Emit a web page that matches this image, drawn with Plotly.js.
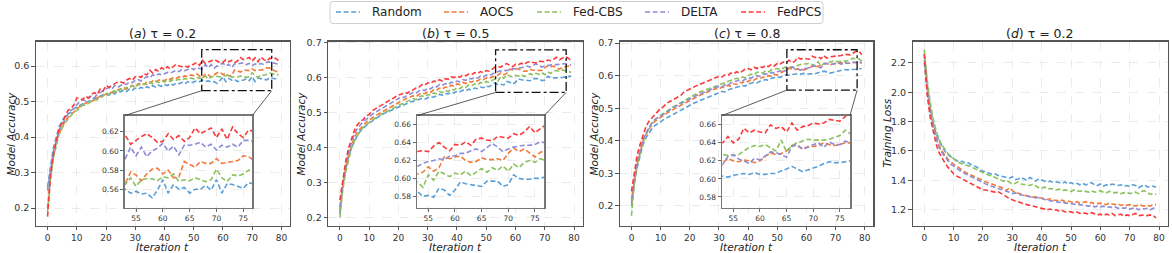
<!DOCTYPE html>
<html><head><meta charset="utf-8">
<script src="https://cdn.plot.ly/plotly-3.0.1.min.js"></script>
<style>html,body{margin:0;padding:0;background:#fff}#chart{width:1172px;height:253px}</style>
</head><body><div id="chart"></div>
<script>
// ---------------- DATA ----------------
const iterations = [0,1,2,3,4,5,6,7,8,9,10,11,12,13,14,15,16,17,18,19,20,21,22,23,24,25,26,27,28,29,30,31,32,33,34,35,36,37,38,39,40,41,42,43,44,45,46,47,48,49,50,51,52,53,54,55,56,57,58,59,60,61,62,63,64,65,66,67,68,69,70,71,72,73,74,75,76,77,78,79];
const methods = ['Random','AOCS','Fed-CBS','DELTA','FedPCS'];
const panelTitles = ['(<i>a</i>) τ = 0.2','(<i>b</i>) τ = 0.5','(<i>c</i>) τ = 0.8','(<i>d</i>) τ = 0.2'];
const yTitles = ['Model Accuracy','Model Accuracy','Model Accuracy','Training Loss'];
const xTitle = 'Iteration t';
const mainXTicks = [0,10,20,30,40,50,60,70,80];
const accTicks = [0.2,0.3,0.4,0.5,0.6];
const accTicks7 = [0.2,0.3,0.4,0.5,0.6,0.7];
const lossTicks = [1.2,1.4,1.6,1.8,2.0,2.2];
const insetXTicks = [55,60,65,70,75];
const insetYTicksA = [0.56,0.58,0.60,0.62];
const insetYTicksBC = [0.58,0.60,0.62,0.64,0.66];

// (a) tau = 0.2 accuracy
const randomA = [0.26,0.32,0.37,0.4,0.43,0.445,0.46,0.465,0.47,0.48,0.485,0.49,0.495,0.498,0.5,0.505,0.51,0.508,0.515,0.518,0.52,0.518,0.525,0.522,0.53,0.527,0.532,0.528,0.535,0.532,0.538,0.535,0.54,0.536,0.542,0.538,0.545,0.54,0.546,0.543,0.548,0.545,0.55,0.546,0.552,0.55,0.554,0.55,0.556,0.552,0.555,0.558,0.556,
 0.560,0.556,0.558,0.555,0.556,0.551,0.559,0.570,0.556,0.565,0.560,0.562,0.556,0.560,0.560,0.564,0.559,0.570,0.556,0.566,0.565,0.563,0.561,0.567,0.565,0.563,0.562];
const aocsA = [0.2,0.29,0.35,0.39,0.41,0.43,0.445,0.455,0.465,0.47,0.48,0.485,0.49,0.495,0.5,0.5,0.505,0.51,0.515,0.52,0.52,0.525,0.525,0.53,0.533,0.535,0.54,0.535,0.542,0.545,0.54,0.55,0.552,0.548,0.555,0.552,0.558,0.555,0.56,0.562,0.558,0.565,0.562,0.568,0.565,0.57,0.568,0.572,0.57,0.575,0.573,0.578,0.572,
 0.566,0.578,0.575,0.569,0.576,0.581,0.582,0.576,0.580,0.572,0.573,0.589,0.586,0.583,0.589,0.587,0.587,0.592,0.587,0.588,0.589,0.590,0.595,0.594,0.59,0.585,0.583];
const fedcbsA = [0.19,0.28,0.34,0.38,0.41,0.425,0.44,0.45,0.46,0.47,0.475,0.48,0.49,0.49,0.495,0.5,0.505,0.505,0.51,0.515,0.525,0.52,0.528,0.53,0.525,0.535,0.53,0.54,0.538,0.545,0.54,0.548,0.545,0.55,0.548,0.555,0.55,0.557,0.553,0.558,0.555,0.56,0.557,0.562,0.56,0.563,0.56,0.565,0.562,0.566,0.564,0.568,0.566,
 0.565,0.572,0.563,0.570,0.571,0.571,0.569,0.573,0.572,0.576,0.568,0.570,0.569,0.572,0.570,0.568,0.570,0.581,0.572,0.568,0.575,0.574,0.576,0.580,0.578,0.576,0.575];
const deltaA = [0.25,0.31,0.36,0.39,0.42,0.435,0.45,0.465,0.475,0.48,0.49,0.5,0.505,0.502,0.51,0.515,0.51,0.52,0.525,0.53,0.535,0.54,0.535,0.545,0.54,0.545,0.55,0.548,0.555,0.553,0.56,0.562,0.558,0.565,0.57,0.567,0.575,0.572,0.578,0.575,0.578,0.582,0.58,0.585,0.588,0.584,0.59,0.587,0.59,0.594,0.59,0.595,0.593,
 0.592,0.604,0.595,0.604,0.594,0.600,0.603,0.608,0.600,0.605,0.596,0.606,0.606,0.607,0.609,0.604,0.607,0.601,0.606,0.604,0.607,0.604,0.611,0.611,0.61,0.607,0.605];
const fedpcsA = [0.176,0.29,0.35,0.39,0.425,0.44,0.46,0.475,0.48,0.49,0.51,0.51,0.505,0.515,0.51,0.52,0.525,0.52,0.535,0.53,0.545,0.54,0.545,0.55,0.555,0.555,0.552,0.56,0.565,0.56,0.57,0.572,0.568,0.578,0.575,0.588,0.58,0.59,0.585,0.595,0.59,0.598,0.592,0.598,0.605,0.6,0.598,0.6,0.597,0.603,0.605,0.61,0.602,
 0.6165,0.607,0.611,0.615,0.618,0.614,0.609,0.610,0.618,0.612,0.616,0.610,0.614,0.624,0.618,0.621,0.624,0.614,0.623,0.612,0.625,0.618,0.614,0.622,0.62,0.622,0.615];

// (b) tau = 0.5 accuracy
const randomB = [0.21,0.29,0.34,0.375,0.4,0.42,0.435,0.447,0.456,0.463,0.47,0.476,0.482,0.487,0.492,0.497,0.5,0.505,0.508,0.512,0.516,0.52,0.523,0.526,0.53,0.532,0.535,0.538,0.54,0.538,0.543,0.546,0.544,0.549,0.552,0.55,0.555,0.553,0.558,0.556,0.561,0.559,0.564,0.562,0.567,0.565,0.57,0.568,0.573,0.571,0.576,0.574,0.579,
 0.585,0.580,0.581,0.579,0.589,0.587,0.581,0.587,0.596,0.594,0.593,0.592,0.591,0.597,0.597,0.597,0.591,0.593,0.604,0.600,0.599,0.599,0.600,0.600,0.602,0.603,0.604];
const aocsB = [0.22,0.29,0.34,0.38,0.405,0.43,0.445,0.455,0.465,0.472,0.478,0.485,0.49,0.495,0.5,0.505,0.51,0.515,0.52,0.523,0.53,0.533,0.537,0.54,0.545,0.548,0.545,0.552,0.556,0.554,0.56,0.558,0.565,0.563,0.57,0.567,0.573,0.571,0.578,0.575,0.582,0.58,0.586,0.583,0.589,0.587,0.592,0.59,0.596,0.594,0.599,0.597,0.602,
 0.605,0.607,0.613,0.608,0.612,0.624,0.622,0.624,0.625,0.620,0.618,0.619,0.623,0.621,0.621,0.622,0.620,0.628,0.634,0.630,0.633,0.628,0.624,0.629,0.632,0.633,0.63];
const fedcbsB = [0.2,0.28,0.33,0.37,0.4,0.42,0.435,0.448,0.458,0.465,0.47,0.478,0.483,0.49,0.494,0.5,0.503,0.508,0.512,0.516,0.52,0.525,0.528,0.532,0.536,0.54,0.537,0.544,0.548,0.545,0.552,0.55,0.556,0.554,0.56,0.557,0.563,0.56,0.567,0.564,0.571,0.568,0.575,0.572,0.579,0.576,0.582,0.579,0.586,0.583,0.589,0.586,0.592,
 0.596,0.590,0.604,0.598,0.608,0.605,0.602,0.606,0.604,0.608,0.603,0.607,0.611,0.607,0.612,0.609,0.614,0.608,0.616,0.612,0.618,0.620,0.618,0.622,0.62,0.618,0.615];
const deltaB = [0.23,0.3,0.35,0.39,0.415,0.44,0.455,0.465,0.475,0.48,0.488,0.495,0.5,0.505,0.51,0.515,0.52,0.523,0.53,0.535,0.54,0.545,0.543,0.55,0.553,0.557,0.555,0.562,0.565,0.563,0.57,0.568,0.575,0.573,0.58,0.578,0.583,0.58,0.587,0.585,0.59,0.588,0.594,0.592,0.598,0.596,0.6,0.598,0.604,0.602,0.607,0.605,0.61,
 0.614,0.617,0.619,0.620,0.622,0.621,0.625,0.625,0.628,0.628,0.631,0.633,0.630,0.635,0.639,0.635,0.630,0.633,0.635,0.636,0.637,0.637,0.638,0.641,0.64,0.638,0.636];
const fedpcsB = [0.25,0.31,0.36,0.4,0.425,0.45,0.465,0.475,0.48,0.49,0.495,0.505,0.51,0.515,0.52,0.525,0.53,0.535,0.54,0.545,0.55,0.552,0.558,0.555,0.562,0.565,0.57,0.572,0.58,0.578,0.585,0.583,0.59,0.588,0.594,0.59,0.597,0.595,0.602,0.6,0.604,0.601,0.607,0.605,0.61,0.608,0.614,0.611,0.617,0.614,0.62,0.618,0.625,
 0.630,0.631,0.630,0.636,0.640,0.635,0.631,0.638,0.637,0.641,0.637,0.644,0.645,0.643,0.642,0.647,0.646,0.645,0.650,0.648,0.652,0.658,0.651,0.656,0.66,0.655,0.65];

// (c) tau = 0.8 accuracy
const randomC = [0.2,0.27,0.32,0.36,0.39,0.41,0.425,0.437,0.447,0.452,0.458,0.465,0.47,0.476,0.481,0.486,0.49,0.495,0.5,0.505,0.51,0.514,0.518,0.522,0.526,0.53,0.534,0.538,0.541,0.544,0.547,0.552,0.55,0.556,0.559,0.562,0.565,0.567,0.57,0.568,0.575,0.577,0.58,0.578,0.583,0.585,0.588,0.586,0.592,0.594,0.596,0.595,0.6,
 0.603,0.602,0.604,0.605,0.606,0.605,0.607,0.605,0.605,0.606,0.606,0.609,0.611,0.614,0.611,0.608,0.610,0.612,0.614,0.617,0.619,0.618,0.618,0.619,0.62,0.621,0.622];
const aocsC = [0.21,0.28,0.33,0.37,0.4,0.42,0.435,0.45,0.46,0.466,0.472,0.48,0.485,0.49,0.495,0.5,0.505,0.51,0.515,0.52,0.525,0.53,0.534,0.538,0.542,0.546,0.55,0.553,0.557,0.561,0.559,0.565,0.563,0.57,0.568,0.575,0.573,0.58,0.578,0.584,0.582,0.588,0.586,0.592,0.59,0.596,0.594,0.6,0.598,0.604,0.602,0.608,0.612,
 0.618,0.623,0.620,0.619,0.621,0.620,0.618,0.620,0.625,0.629,0.627,0.628,0.631,0.637,0.637,0.633,0.636,0.636,0.637,0.640,0.638,0.637,0.638,0.640,0.64,0.642,0.638];
const fedcbsC = [0.17,0.27,0.33,0.37,0.4,0.42,0.44,0.455,0.465,0.472,0.478,0.485,0.49,0.497,0.503,0.508,0.513,0.518,0.523,0.53,0.535,0.54,0.543,0.548,0.552,0.555,0.558,0.562,0.566,0.568,0.572,0.575,0.578,0.582,0.585,0.588,0.592,0.59,0.596,0.594,0.6,0.605,0.602,0.61,0.612,0.608,0.615,0.612,0.618,0.62,0.622,0.619,0.624,
 0.627,0.626,0.626,0.627,0.631,0.635,0.637,0.636,0.638,0.634,0.631,0.643,0.630,0.637,0.640,0.642,0.644,0.643,0.643,0.643,0.644,0.646,0.648,0.654,0.65,0.652,0.645];
const deltaC = [0.22,0.29,0.34,0.375,0.405,0.425,0.44,0.455,0.465,0.47,0.475,0.482,0.488,0.495,0.5,0.505,0.51,0.515,0.52,0.525,0.53,0.533,0.538,0.542,0.546,0.55,0.553,0.557,0.56,0.564,0.567,0.565,0.572,0.57,0.578,0.58,0.582,0.586,0.584,0.59,0.594,0.592,0.598,0.6,0.598,0.604,0.606,0.604,0.61,0.608,0.612,0.615,0.613,
 0.616,0.625,0.627,0.622,0.620,0.617,0.623,0.621,0.626,0.630,0.629,0.627,0.624,0.636,0.638,0.633,0.635,0.638,0.640,0.635,0.641,0.638,0.638,0.642,0.64,0.643,0.64];
const fedpcsC = [0.245,0.31,0.36,0.39,0.42,0.445,0.46,0.47,0.48,0.49,0.5,0.505,0.515,0.52,0.525,0.53,0.535,0.54,0.55,0.555,0.56,0.565,0.568,0.572,0.575,0.58,0.583,0.587,0.59,0.595,0.598,0.596,0.602,0.6,0.608,0.605,0.612,0.608,0.615,0.62,0.622,0.618,0.626,0.622,0.628,0.625,0.632,0.628,0.635,0.63,0.638,0.636,0.642,
 0.640,0.647,0.640,0.644,0.656,0.651,0.654,0.652,0.651,0.660,0.656,0.658,0.652,0.662,0.654,0.658,0.659,0.662,0.661,0.662,0.666,0.665,0.664,0.669,0.675,0.675,0.665];

// (d) tau = 0.2 training loss
const randomD = [2.22,2.04,1.9,1.8,1.72,1.67,1.63,1.6,1.575,1.56,1.545,1.535,1.525,1.53,1.515,1.52,1.505,1.5,1.49,1.47,1.465,1.455,1.45,1.44,1.445,1.435,1.43,1.425,1.42,1.415,1.425,1.405,1.41,1.42,1.41,1.4,1.42,1.405,1.395,1.41,1.4,1.395,1.39,1.395,1.385,1.39,1.385,1.38,1.39,1.375,1.385,1.375,1.38,1.37,1.38,1.37,1.375,1.385,1.37,1.365,1.375,1.36,1.37,1.365,1.375,1.37,1.365,1.37,1.36,1.365,1.36,1.37,1.365,1.35,1.36,1.37,1.355,1.36,1.36,1.355];
const aocsD = [2.26,2.03,1.88,1.77,1.7,1.64,1.6,1.57,1.545,1.525,1.51,1.495,1.48,1.465,1.455,1.445,1.435,1.425,1.415,1.405,1.4,1.39,1.38,1.375,1.365,1.36,1.355,1.345,1.33,1.35,1.33,1.32,1.31,1.305,1.3,1.295,1.29,1.285,1.29,1.28,1.28,1.275,1.27,1.275,1.265,1.265,1.26,1.265,1.255,1.26,1.255,1.25,1.255,1.245,1.25,1.255,1.245,1.25,1.24,1.245,1.245,1.24,1.235,1.245,1.24,1.235,1.24,1.23,1.235,1.23,1.235,1.23,1.225,1.235,1.23,1.225,1.23,1.225,1.235,1.235];
const fedcbsD = [2.29,2.08,1.93,1.82,1.74,1.68,1.64,1.61,1.585,1.565,1.545,1.53,1.52,1.51,1.505,1.5,1.49,1.48,1.47,1.46,1.45,1.44,1.435,1.43,1.42,1.41,1.405,1.395,1.4,1.385,1.375,1.38,1.39,1.375,1.37,1.37,1.365,1.375,1.36,1.35,1.345,1.355,1.34,1.345,1.34,1.335,1.34,1.33,1.335,1.33,1.325,1.335,1.33,1.325,1.33,1.325,1.32,1.33,1.32,1.325,1.33,1.32,1.315,1.325,1.32,1.315,1.32,1.31,1.315,1.32,1.31,1.315,1.32,1.31,1.325,1.33,1.315,1.305,1.31,1.305];
const deltaD = [2.2,2.0,1.86,1.76,1.69,1.63,1.59,1.56,1.535,1.51,1.495,1.48,1.465,1.455,1.445,1.435,1.42,1.41,1.4,1.39,1.38,1.37,1.365,1.36,1.35,1.345,1.34,1.335,1.325,1.32,1.31,1.315,1.305,1.3,1.295,1.295,1.29,1.285,1.28,1.285,1.275,1.27,1.265,1.26,1.26,1.255,1.25,1.255,1.245,1.245,1.24,1.24,1.235,1.235,1.23,1.23,1.225,1.23,1.22,1.225,1.22,1.225,1.215,1.22,1.215,1.22,1.21,1.215,1.21,1.215,1.205,1.21,1.215,1.2,1.21,1.205,1.21,1.2,1.21,1.22];
const fedpcsD = [2.26,1.98,1.83,1.73,1.65,1.59,1.55,1.52,1.49,1.465,1.445,1.43,1.42,1.41,1.4,1.385,1.38,1.37,1.355,1.345,1.335,1.335,1.33,1.325,1.32,1.325,1.315,1.3,1.29,1.275,1.265,1.26,1.255,1.245,1.24,1.235,1.23,1.225,1.215,1.21,1.21,1.205,1.2,1.205,1.195,1.2,1.19,1.195,1.185,1.19,1.185,1.18,1.185,1.175,1.18,1.175,1.17,1.18,1.17,1.165,1.17,1.16,1.17,1.165,1.175,1.16,1.165,1.17,1.155,1.165,1.16,1.165,1.175,1.16,1.165,1.165,1.16,1.165,1.16,1.145];

// ---------------- STYLE / LAYOUT ----------------
const colors = ['#5a9fd6','#f4793a','#8cc05e','#8c8cd8','#fb3a3a'];
const W = 1172, H = 253;
const px = x => x / W, py = y => 1 - y / H;
const FONT = 'DejaVu Sans';
const mainBoxes = [[36,290],[328.3,582.7],[620,873.3],[912.7,1167.7]];
const mainTop = 41.5, mainBottom = 225.5;
const xRange = [-3.95, 82.95];
const yRanges = [[0.151,0.669],[0.1775,0.703],[0.14,0.705],[1.093,2.345]];
const yTickSets = [accTicks, accTicks7, accTicks7, lossTicks];
const insetTop = 115.5, insetBottom = 207.5;
const insetBoxes = [[125,252.3],[417.3,544.3],[722.3,850]];
const insetXRanges = [[52.95,76.68],[52.94,76.75],[52.94,76.9]];
const insetYRanges = [[0.541,0.637],[0.5675,0.6703],[0.5683,0.6703]];
const insetYTickSets = [insetYTicksA, insetYTicksBC, insetYTicksBC];
const zoomRegions = [{x:[52.75,76.7],y:[0.5305,0.646]},{x:[53.2,77.3],y:[0.5576,0.679]},{x:[53.3,77.4],y:[0.5558,0.6797]}];
const yTitleX = [10, 300, 593, 886];

const panelData = [
  [randomA, aocsA, fedcbsA, deltaA, fedpcsA],
  [randomB, aocsB, fedcbsB, deltaB, fedpcsB],
  [randomC, aocsC, fedcbsC, deltaC, fedpcsC],
  [randomD, aocsD, fedcbsD, deltaD, fedpcsD]
];

const DASH = '5px,2.6px';
const traces = [];
const lineStyle = c => ({color: c, width: 1.6, dash: DASH});
panelData.forEach((series, p) => {
  const ax = p === 0 ? '' : String(p + 1);
  series.forEach((vals, s) => {
    traces.push({x: iterations, y: vals, type: 'scatter', mode: 'lines', name: methods[s],
      xaxis: 'x' + ax, yaxis: 'y' + ax, line: lineStyle(colors[s]), showlegend: false, hoverinfo: 'skip'});
  });
});
// insets (same data, zoomed axes)
[0,1,2].forEach(p => {
  const ax = String(p + 5);
  panelData[p].forEach((vals, s) => {
    traces.push({x: iterations, y: vals, type: 'scatter', mode: 'lines', name: methods[s],
      xaxis: 'x' + ax, yaxis: 'y' + ax, line: lineStyle(colors[s]), showlegend: false, hoverinfo: 'skip'});
  });
});

const layout = {
  width: W, height: H, margin: {l:0, r:0, t:0, b:0},
  paper_bgcolor: '#fff', plot_bgcolor: 'rgba(0,0,0,0)',
  font: {family: FONT, color: '#222'},
  showlegend: false,
  shapes: [], annotations: []
};
const gridStyle = {showgrid: true, gridcolor: '#e2e2e2', griddash: 'dash', gridwidth: 0.7, zeroline: false};

mainBoxes.forEach((b, p) => {
  const ax = p === 0 ? '' : String(p + 1);
  layout['xaxis' + ax] = Object.assign({
    domain: [px(b[0]), px(b[1])], range: xRange, anchor: 'y' + ax,
    tickmode: 'array', tickvals: mainXTicks, ticktext: mainXTicks.map(String),
    showline: true, mirror: true, linecolor: '#555', linewidth: 1.2,
    ticks: 'outside', ticklen: 3.5, tickwidth: 0.9, tickcolor: '#444',
    tickfont: {family: FONT, size: 9, color: '#333'}
  }, gridStyle);
  layout['yaxis' + ax] = Object.assign({
    domain: [py(mainBottom), py(mainTop)], range: yRanges[p], anchor: 'x' + ax,
    tickmode: 'array', tickvals: yTickSets[p], ticktext: yTickSets[p].map(v => v.toFixed(1)),
    showline: true, mirror: true, linecolor: '#555', linewidth: 1.2,
    ticks: 'outside', ticklen: 3.5, tickwidth: 0.9, tickcolor: '#444',
    tickfont: {family: FONT, size: 9.5, color: '#333'}
  }, gridStyle);
  layout.annotations.push({text: panelTitles[p], xref: 'paper', yref: 'paper',
    x: px((b[0] + b[1]) / 2), y: py(33.5), xanchor: 'center', yanchor: 'middle', showarrow: false,
    font: {family: FONT, size: 12.5, color: '#222'}});
  // axis titles
  layout.annotations.push({text: '<i>' + xTitle + '</i>', xref: 'paper', yref: 'paper',
    x: px((b[0] + b[1]) / 2), y: py(246.8), xanchor: 'center', yanchor: 'middle', showarrow: false,
    font: {family: FONT, size: 10.5, color: '#222'}});
  layout.annotations.push({text: '<i>' + yTitles[p] + '</i>', xref: 'paper', yref: 'paper',
    x: px(yTitleX[p]), y: py((mainTop + mainBottom) / 2), xanchor: 'center', yanchor: 'middle', showarrow: false,
    textangle: -90, font: {family: FONT, size: 10.5, color: '#222'}});
});

insetBoxes.forEach((b, p) => {
  const ax = String(p + 5);
  layout['xaxis' + ax] = Object.assign({
    domain: [px(b[0]), px(b[1])], range: insetXRanges[p], anchor: 'y' + ax,
    tickmode: 'array', tickvals: insetXTicks, ticktext: insetXTicks.map(String),
    showline: true, mirror: true, linecolor: '#777', linewidth: 1.8,
    ticks: 'outside', ticklen: 3, tickwidth: 0.8, tickcolor: '#444',
    tickfont: {family: FONT, size: 7.5, color: '#333'}
  }, gridStyle);
  layout['yaxis' + ax] = Object.assign({
    domain: [py(insetBottom), py(insetTop)], range: insetYRanges[p], anchor: 'x' + ax,
    tickmode: 'array', tickvals: insetYTickSets[p], ticktext: insetYTickSets[p].map(v => v.toFixed(2)),
    showline: true, mirror: true, linecolor: '#777', linewidth: 1.8,
    ticks: 'outside', ticklen: 3, tickwidth: 0.8, tickcolor: '#444',
    tickfont: {family: FONT, size: 7.5, color: '#333'}
  }, gridStyle);
  // white background of the inset, in the inset subplot's own lower layer (hides main grid)
  layout.shapes.push({type: 'rect', xref: 'x' + ax, yref: 'y' + ax,
    x0: insetXRanges[p][0], x1: insetXRanges[p][1], y0: insetYRanges[p][0], y1: insetYRanges[p][1],
    fillcolor: '#fff', line: {width: 0}, layer: 'below'});
  // zoom rectangle on main axes
  const mx = p === 0 ? 'x' : 'x' + (p + 1), my = p === 0 ? 'y' : 'y' + (p + 1);
  const z = zoomRegions[p];
  layout.shapes.push({type: 'rect', xref: mx, yref: my, x0: z.x[0], x1: z.x[1], y0: z.y[0], y1: z.y[1],
    line: {color: '#111', width: 1.3, dash: 'dashdot'}, fillcolor: 'rgba(0,0,0,0)', layer: 'above'});
  // connectors from rectangle bottom corners to inset top corners
  const mb = mainBoxes[p];
  const toPx = v => mb[0] + (v - xRange[0]) / (xRange[1] - xRange[0]) * (mb[1] - mb[0]);
  const toPy = v => mainBottom - (v - yRanges[p][0]) / (yRanges[p][1] - yRanges[p][0]) * (mainBottom - mainTop);
  const rb = toPy(z.y[0]);
  [[toPx(z.x[0]), b[0]], [toPx(z.x[1]), b[1]]].forEach(([rx, ix]) => {
    layout.shapes.push({type: 'line', xref: 'paper', yref: 'paper', x0: px(rx), y0: py(rb), x1: px(ix), y1: py(insetTop),
      line: {color: '#333', width: 0.8}, layer: 'above'});
  });
});

// legend (drawn as a framed row of handles + labels)
const legendTextX = [370, 478, 571, 679, 775];
const legendY = 12;
layout.shapes.push({type: 'path', xref: 'paper', yref: 'paper',
  path: `M ${px(333)},${py(1.5)} L ${px(820)},${py(1.5)} Q ${px(823)},${py(1.5)} ${px(823)},${py(4.5)} L ${px(823)},${py(20.5)} Q ${px(823)},${py(23.5)} ${px(820)},${py(23.5)} L ${px(333)},${py(23.5)} Q ${px(330)},${py(23.5)} ${px(330)},${py(20.5)} L ${px(330)},${py(4.5)} Q ${px(330)},${py(1.5)} ${px(333)},${py(1.5)} Z`,
  line: {color: '#d0d0d0', width: 1}, fillcolor: 'rgba(255,255,255,0.8)', layer: 'above'});
methods.forEach((m, i) => {
  const tx = legendTextX[i];
  layout.shapes.push({type: 'line', xref: 'paper', yref: 'paper', x0: px(tx - 34), x1: px(tx - 10), y0: py(legendY), y1: py(legendY),
    line: {color: colors[i], width: 1.6, dash: DASH}, layer: 'above'});
  layout.annotations.push({text: m, xref: 'paper', yref: 'paper', x: px(tx), y: py(legendY),
    xanchor: 'left', yanchor: 'middle', showarrow: false, font: {family: FONT, size: 12, color: '#222'}});
});

Plotly.newPlot('chart', traces, layout, {staticPlot: true, displayModeBar: false});
</script>
</body></html>
